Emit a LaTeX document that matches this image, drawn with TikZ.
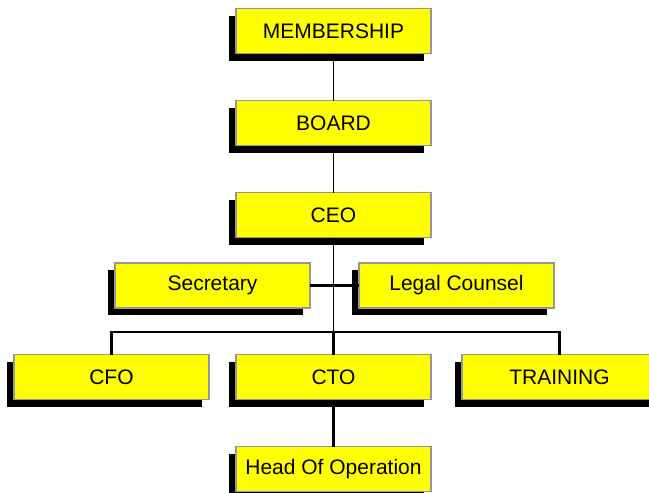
\documentclass[tikz,border=0pt]{standalone}
\usepackage{fontspec}
\setmainfont{Liberation Sans}
\usetikzlibrary{positioning, shadows}
\definecolor{boxyellow}{RGB}{255,255,0}
\definecolor{boxrim}{RGB}{150,150,150}
\tikzstyle{unit}=[rectangle, draw=boxrim, line width=0.8pt, fill=boxyellow,
  minimum width=97.5pt, minimum height=22.5pt, inner sep=0pt, outer sep=0pt,
  font=\fontsize{10.5}{12}\selectfont,
  drop shadow={shadow xshift=-3.5pt, shadow yshift=-3.5pt, fill=black, opacity=1}]
\tikzstyle{link}=[line width=0.5pt]
\tikzstyle{bus}=[line width=1.2pt]

\begin{document}
\begin{tikzpicture}[x=0.5pt, y=-0.5pt, node distance=23.5pt]
            \useasboundingbox (0,0) rectangle (649,493);

            \node[unit] (member)                     at (333.5,31) {MEMBERSHIP};
            \node[unit] (board)    [below=of member]               {BOARD};
            \node[unit] (ceo)      [below=of board]                {CEO};
            \node[unit] (sec)                        at (212.5,285.5) {Secretary};
            \node[unit] (legal)                      at (456.5,285.5) {Legal Counsel};
            \node[unit] (cto)      [below=58.5pt of ceo]           {CTO};
            \node[unit] (cfo)      [left=13.5pt of cto]            {CFO};
            \node[unit] (training) [right=15.5pt of cto]           {TRAINING};
            \node[unit] (head)     [below=of cto]                  {Head Of Operation};
            \coordinate (split) at (333.5,332);

            \path[link]
              (member) edge (board)
              (board)  edge (ceo)
              (ceo)    edge (split);
            \draw[bus] (sec) -- (legal);
            \draw[bus] (cfo.north) |- (split) -| (training.north);
            \draw[bus] (split) -- (cto);
            \draw[bus] (cto) -- (head);
          \end{tikzpicture}
\end{document}
